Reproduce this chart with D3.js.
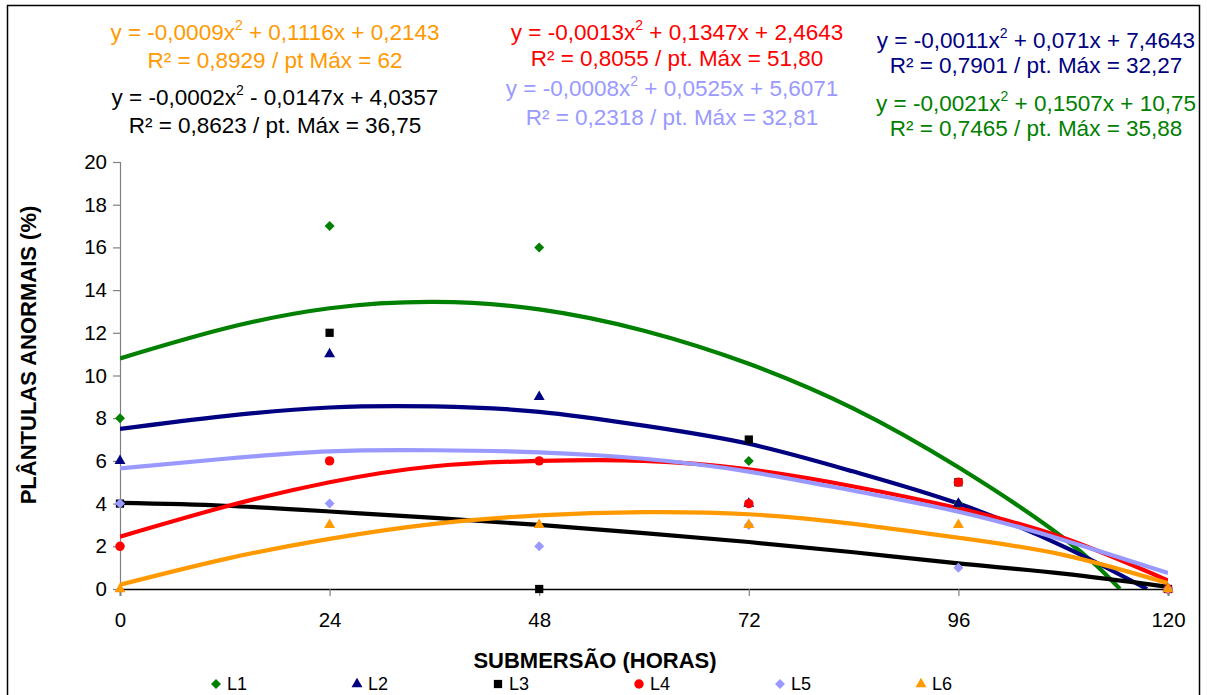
<!DOCTYPE html>
<html>
<head>
<meta charset="utf-8">
<script src="https://cdn.jsdelivr.net/npm/d3@7/dist/d3.min.js"></script>
<style>
	body { margin: 0; background: #fff; }
	svg { display: block; font-family: "Liberation Sans", Arial, sans-serif; }
</style>
</head>
<body>
<svg id="chart" width="1207" height="695"></svg>
<script>
// observed points (hours of submersion x % abnormal seedlings)
var series = ["L1", "L2", "L3", "L4", "L5", "L6"];
var hours = [0, 24, 48, 72, 96, 120];
var obsL1 = [8, 17, 16, 6, 4, 0];
var obsL2 = [6, 11, 9, 4, 4, 0];
var obsL3 = [4, 12, 0, 7, 5, 0];
var obsL4 = [2, 6, 6, 4, 5, 0];
var obsL5 = [4, 4, 2, 3, 1, 0];
var obsL6 = [0, 3, 3, 3, 3, 0];

// trend lines as [hour, value]
var trendL1 = [[0, 10.8], [12, 12.2], [24, 13.15], [36, 13.45], [48, 13.1], [60, 12.1], [72, 10.55], [84, 8.45], [96, 5.7], [108, 2.4], [114.5, 0]];
var trendL2 = [[0, 7.5], [12, 8.1], [24, 8.5], [36, 8.55], [48, 8.3], [60, 7.65], [72, 6.8], [84, 5.5], [96, 4.0], [108, 2.0], [117.6, 0]];
var trendL3 = [[0, 4.03], [12, 3.9], [24, 3.63], [36, 3.33], [48, 3.0], [60, 2.62], [72, 2.2], [84, 1.72], [96, 1.2], [108, 0.72], [120, 0.1]];
var trendL4 = [[0, 2.45], [12, 3.85], [24, 5.0], [36, 5.75], [48, 6.0], [60, 6.0], [72, 5.6], [84, 4.8], [96, 3.78], [108, 2.4], [120, 0.4]];
var trendL5 = [[0, 5.65], [12, 6.1], [24, 6.45], [36, 6.5], [48, 6.4], [60, 6.1], [72, 5.5], [84, 4.6], [96, 3.62], [108, 2.3], [120, 0.75]];
var trendL6 = [[0, 0.2], [12, 1.4], [24, 2.35], [36, 3.05], [48, 3.45], [60, 3.6], [72, 3.5], [84, 3.05], [96, 2.4], [108, 1.6], [120, 0.27]];

var xTicks = [0, 24, 48, 72, 96, 120];
var yTicks = [0, 2, 4, 6, 8, 10, 12, 14, 16, 18, 20];

// equation labels: [before superscript, after superscript, R² line]
var eqL1 = ["y = -0,0021x", " + 0,1507x + 10,75", "R² = 0,7465 / pt. Máx = 35,88"];
var eqL2 = ["y = -0,0011x", " + 0,071x + 7,4643", "R² = 0,7901 / pt. Máx = 32,27"];
var eqL3 = ["y = -0,0002x", " - 0,0147x + 4,0357", "R² = 0,8623 / pt. Máx = 36,75"];
var eqL4 = ["y = -0,0013x", " + 0,1347x + 2,4643", "R² = 0,8055 / pt. Máx = 51,80"];
var eqL5 = ["y = -0,0008x", " + 0,0525x + 5,6071", "R² = 0,2318 / pt. Máx = 32,81"];
var eqL6 = ["y = -0,0009x", " + 0,1116x + 0,2143", "R² = 0,8929 / pt Máx = 62"];

var colors = ["#008000", "#000080", "#000000", "#ff0000", "#9999ff", "#ff9900"];
var shapes = ["diamond", "triangle", "square", "circle", "diamond", "triangle"];

var obs = [obsL1, obsL2, obsL3, obsL4, obsL5, obsL6];
var trends = [trendL1, trendL2, trendL3, trendL4, trendL5, trendL6];
var eqs = [eqL1, eqL2, eqL3, eqL4, eqL5, eqL6];
// where each equation block sits: [centre x, baseline 1, baseline 2]
var eqPos = [[1036, 111, 136], [1036, 48, 73], [275, 105, 133], [677, 40, 66], [672, 96, 125], [275, 40, 68]];

var svg = d3.select("#chart");

svg.append("rect")
	.attr("x", 7.5).attr("y", 5.5)
	.attr("width", 1192).attr("height", 720)
	.attr("fill", "none")
	.attr("stroke", "#000")
	.attr("stroke-width", 1.5);

var x = d3.scaleLinear().domain([0, 120]).range([120, 1168]);
var y = d3.scaleLinear().domain([0, 20]).range([589, 162]);

svg.append("defs").append("clipPath").attr("id", "plot")
	.append("rect")
	.attr("x", x(0)).attr("y", y(20))
	.attr("width", x(120) - x(0)).attr("height", y(0) - y(20));

// axes
var yAxis = svg.append("g")
	.attr("transform", "translate(" + x(0) + ",0)")
	.call(d3.axisLeft(y).tickValues(yTicks).tickSize(7).tickPadding(6));
yAxis.select(".domain").attr("stroke", "#808080").attr("stroke-width", 1.2);
yAxis.selectAll(".tick line").attr("stroke", "#808080").attr("stroke-width", 1.2);
yAxis.selectAll("text")
	.attr("font-family", "Liberation Sans, Arial, sans-serif")
	.attr("font-size", 20.5).attr("fill", "#000");

var xAxis = svg.append("g")
	.attr("transform", "translate(0," + y(0) + ")")
	.call(d3.axisBottom(x).tickValues(xTicks).tickSize(7).tickPadding(16));
xAxis.select(".domain").attr("stroke", "#000").attr("stroke-width", 1.5);
xAxis.selectAll(".tick line").attr("stroke", "#808080").attr("stroke-width", 1.2);
xAxis.selectAll("text")
	.attr("font-family", "Liberation Sans, Arial, sans-serif")
	.attr("font-size", 20.5).attr("fill", "#000");

svg.append("text")
	.attr("transform", "translate(36,355) rotate(-90)")
	.attr("text-anchor", "middle")
	.attr("font-size", 22).attr("font-weight", "bold")
	.text("PLÂNTULAS ANORMAIS (%)");

svg.append("text")
	.attr("x", 595).attr("y", 668)
	.attr("text-anchor", "middle")
	.attr("font-size", 22).attr("font-weight", "bold")
	.text("SUBMERSÃO (HORAS)");

// trend lines
var line = d3.line()
	.x(function(d) { return x(d[0]); })
	.y(function(d) { return y(d[1]); })
	.curve(d3.curveNatural);

svg.append("g").attr("clip-path", "url(#plot)")
	.selectAll("path")
	.data(trends)
	.enter().append("path")
	.attr("d", line)
	.attr("fill", "none")
	.attr("stroke", function(d, i) { return colors[i]; })
	.attr("stroke-width", 4.2)
	.attr("stroke-linejoin", "round");

// markers
function symbolPath(shape) {
	if (shape == "diamond") return d3.symbol().type(d3.symbolSquare).size(50)();
	if (shape == "triangle") return d3.symbol().type(d3.symbolTriangle).size(52)();
	if (shape == "square") return d3.symbol().type(d3.symbolSquare).size(68)();
	return d3.symbol().type(d3.symbolCircle).size(70)();
}

series.forEach(function(name, i) {
	svg.append("g")
		.selectAll("path")
		.data(obs[i])
		.enter().append("path")
		.attr("d", symbolPath(shapes[i]))
		.attr("transform", function(d, j) {
			return "translate(" + x(hours[j]) + "," + y(d) + ")" + (shapes[i] == "diamond" ? " rotate(45)" : "");
		})
		.attr("fill", colors[i]);
});

// equations
eqs.forEach(function(eq, i) {
	var p = eqPos[i];
	var t = svg.append("text")
		.attr("x", p[0]).attr("y", p[1])
		.attr("text-anchor", "middle")
		.attr("font-size", 22.5)
		.attr("fill", colors[i]);
	t.append("tspan").text(eq[0]);
	t.append("tspan").attr("dy", -10).attr("font-size", 14).text("2");
	t.append("tspan").attr("dy", 10).text(eq[1]);

	svg.append("text")
		.attr("x", p[0]).attr("y", p[2])
		.attr("text-anchor", "middle")
		.attr("font-size", 22.5)
		.attr("fill", colors[i])
		.text(eq[2]);
});

// legend
var legend = svg.append("g")
	.selectAll("g")
	.data(series)
	.enter().append("g")
	.attr("transform", function(d, i) { return "translate(" + (216 + i * 141) + ",684)"; });

legend.append("path")
	.attr("d", function(d, i) { return symbolPath(shapes[i]); })
	.attr("transform", function(d, i) { return shapes[i] == "diamond" ? "rotate(45)" : ""; })
	.attr("fill", function(d, i) { return colors[i]; });

legend.append("text")
	.attr("x", 11)
	.attr("dy", "0.36em")
	.attr("font-size", 18)
	.text(function(d) { return d; });
</script>
</body>
</html>
